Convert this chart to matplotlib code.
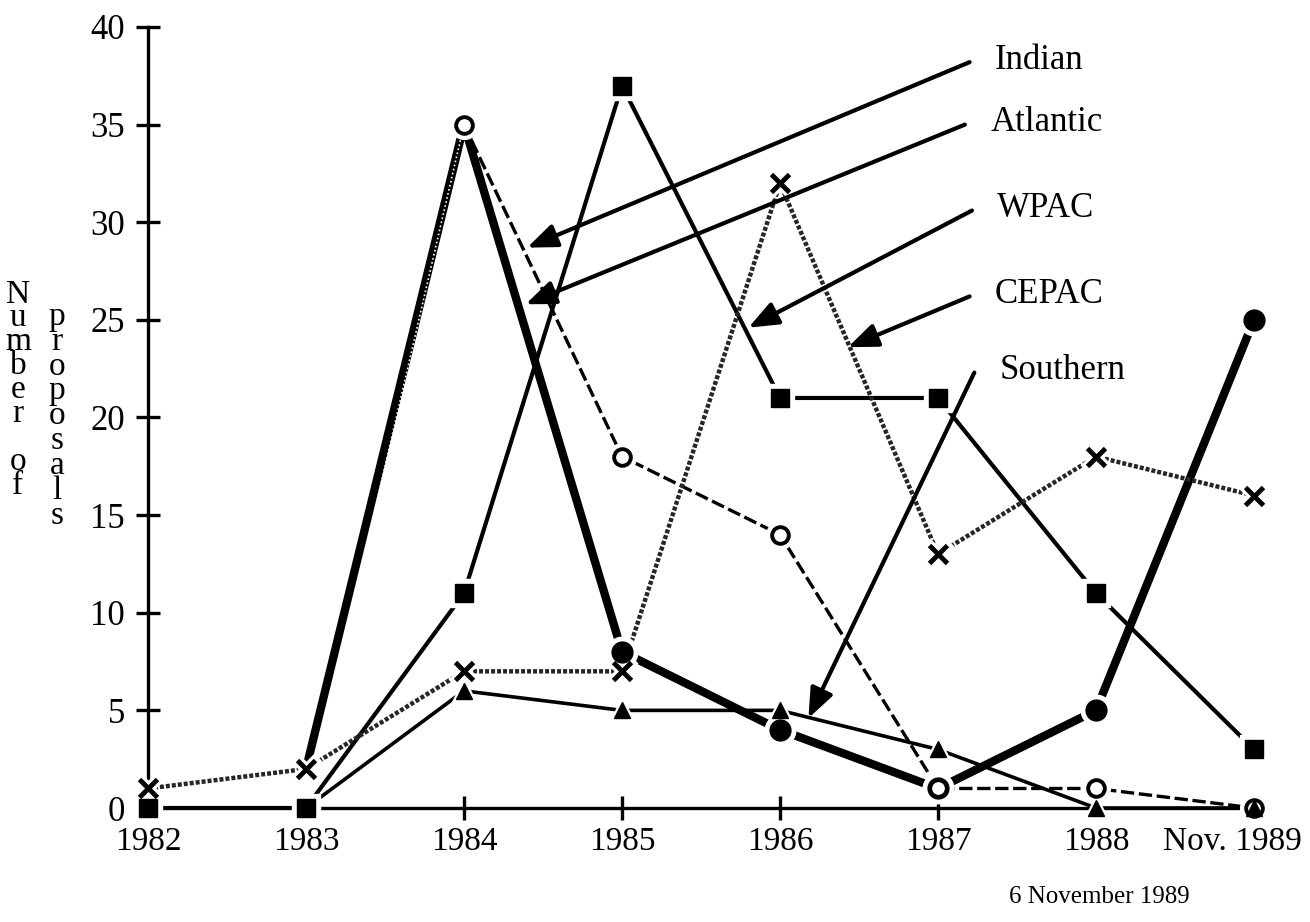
import matplotlib
matplotlib.use("Agg")
import matplotlib.pyplot as plt
import matplotlib.transforms as mtransforms
import numpy as np

plt.rcParams['font.family'] = ['Liberation Serif', 'DejaVu Serif']

# proposals per basin and year
years = ["1982", "1983", "1984", "1985", "1986", "1987", "1988", "Nov. 1989"]
indian = [0, 0, 35, 18, 14, 1, 1, 0]
atlantic = [np.nan, 2, 35, 8, 4, 1, 5, 25]
wpac = [0, 0, 11, 37, 21, 21, 11, 3]
cepac = [1, 2, 7, 7, 32, 13, 18, 16]
southern = [0, 0, 6, 5, 5, 3, 0, 0]

# label text, label anchor (x, y) and arrow tip (x, y) in data units
labels = ["Indian", "Atlantic", "WPAC", "CEPAC", "Southern"]
label_xy = [(5.2, 38.2), (5.17, 35.0), (5.215, 30.6), (5.2, 26.2), (5.23, 22.3)]
tip_xy = [(2.4, 28.7), (2.39, 25.8), (3.8, 24.6), (4.43, 23.6), (4.18, 4.6)]

x = np.arange(len(years))

fig = plt.figure(figsize=(13.1, 9.22), dpi=100)
ax = fig.add_axes([148 / 1310, 1 - 808 / 922, 1106 / 1310, 781 / 922])

# lines first
ax.plot(x, wpac, color='black', lw=3, zorder=2, solid_capstyle='butt')
ax.plot(x, southern, color='black', lw=2.6, zorder=2)
ax.plot(x, atlantic, color='black', lw=6, zorder=2, solid_capstyle='butt')
ax.plot(x[:3], indian[:3], color='white', lw=1.2, dashes=(1, 1.5), zorder=2.1)
ax.plot(x[2:], indian[2:], color='black', lw=2.4, dashes=(4, 1.4), zorder=2)
ax.plot(x, cepac, color='0.15', lw=3.2, dashes=(0.9, 0.45), zorder=2)

# white halos so lines stop short of the markers
halo = dict(ls='none', color='white', zorder=3, clip_on=False)
ax.plot(x[3:], atlantic[3:], marker='o', ms=22, **halo)
ax.plot(x, wpac, marker='s', ms=20, **halo)
ax.plot(x, cepac, marker='x', ms=17, mew=8, **halo)
ax.plot(x[2:], indian[2:], marker='o', ms=20, **halo)
ax.plot(x, southern, marker='^', ms=19, **halo)

# markers
ax.plot(x[3:], atlantic[3:], ls='none', marker='o', ms=15, color='black', zorder=4, clip_on=False)
ax.plot(x, wpac, ls='none', marker='s', ms=13, color='black', zorder=4, clip_on=False)
ax.plot(x, cepac, ls='none', marker='x', ms=13, mew=3.5, color='black', zorder=4, clip_on=False)
ax.plot(x[2:], indian[2:], ls='none', marker='o', ms=12, mfc='white', mec='black', mew=2.8,
        zorder=4, clip_on=False)
ax.plot(x, southern, ls='none', marker='^', ms=12, color='black', zorder=5, clip_on=False)

# basin labels with pointer arrows
for name, (lx, ly), (tx, ty) in zip(labels, label_xy, tip_xy):
    ax.annotate("", xy=(tx, ty), xytext=(lx, ly),
                arrowprops=dict(arrowstyle='-|>,head_length=0.9,head_width=0.36',
                                color='black', lw=3, mutation_scale=20,
                                shrinkA=0, shrinkB=0),
                zorder=6, annotation_clip=False)
    ax.text(lx + 0.16, ly + 0.1, name, fontsize=25, ha='left', va='center')

ax.set_xlim(0, 7)
ax.set_ylim(0, 40)
ax.set_xticks(x)
ax.set_xticklabels(years)
ax.set_yticks(np.arange(0, 41, 5))

for side in ['top', 'right']:
    ax.spines[side].set_visible(False)
for side in ['left', 'bottom']:
    ax.spines[side].set_linewidth(2.4)

ax.tick_params(direction='inout', length=17, width=2.4, labelsize=25)
ax.tick_params(axis='y', pad=8)
ax.tick_params(axis='x', pad=5, labelsize=24)

# shift the last year label left so it stays on the page
shift = mtransforms.ScaledTranslation(-0.22, 0, fig.dpi_scale_trans)
last = ax.get_xticklabels()[-1]
last.set_transform(last.get_transform() + shift)

fig.text(18 / 1310, 1 - 390 / 922, "\n".join("Number of"), fontsize=24,
         ha='center', va='center', linespacing=0.72)
fig.text(57 / 1310, 1 - 416 / 922, "\n".join("proposals"), fontsize=24,
         ha='center', va='center', linespacing=0.76)

fig.text(1190 / 1310, 1 - 897 / 922, "6 November 1989", fontsize=18,
         ha='right', va='center')

fig.savefig("out.png", dpi=100, facecolor='white')
